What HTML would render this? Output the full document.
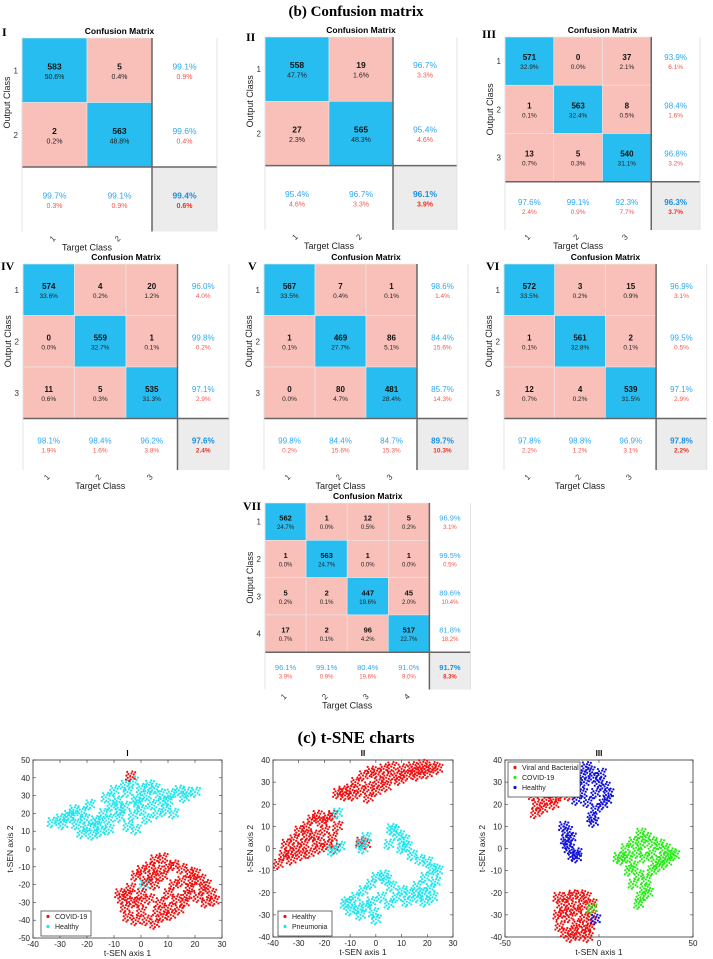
<!DOCTYPE html>
<html><head><meta charset="utf-8"><style>
html,body{margin:0;padding:0;background:#fff}
svg{display:block}
text{font-family:"Liberation Sans",sans-serif}
.serif{font-family:"Liberation Serif",serif;font-weight:bold}
</style></head><body>
<svg id="fig" width="713" height="959" viewBox="0 0 713 959" xmlns="http://www.w3.org/2000/svg">
<text class="serif" x="356" y="16" font-size="15" text-anchor="middle">(b)  Confusion matrix</text>
<text class="serif" x="356" y="743" font-size="17" text-anchor="middle">(c)  t-SNE charts</text>
</svg>
<script>
const NS='http://www.w3.org/2000/svg';
const fig=document.getElementById('fig');
function mk(tag,attrs,parent,txt){const e=document.createElementNS(NS,tag);for(const k in attrs)e.setAttribute(k,attrs[k]);if(txt!==undefined)e.textContent=txt;(parent||fig).appendChild(e);return e;}

// ---- Confusion matrix data ----
const cmICounts=[[583,5],[2,563]];
const cmIPcts=[["50.6%","0.4%"],["0.2%","48.8%"]];
const cmIRow=[["99.1%","0.9%"],["99.6%","0.4%"]];
const cmICol=[["99.7%","0.3%"],["99.1%","0.9%"]];
const cmITotal=["99.4%","0.6%"];

const cmIICounts=[[558,19],[27,565]];
const cmIIPcts=[["47.7%","1.6%"],["2.3%","48.3%"]];
const cmIIRow=[["96.7%","3.3%"],["95.4%","4.6%"]];
const cmIICol=[["95.4%","4.6%"],["96.7%","3.3%"]];
const cmIITotal=["96.1%","3.9%"];

const cmIIICounts=[[571,0,37],[1,563,8],[13,5,540]];
const cmIIIPcts=[["32.9%","0.0%","2.1%"],["0.1%","32.4%","0.5%"],["0.7%","0.3%","31.1%"]];
const cmIIIRow=[["93.9%","6.1%"],["98.4%","1.6%"],["96.8%","3.2%"]];
const cmIIICol=[["97.6%","2.4%"],["99.1%","0.9%"],["92.3%","7.7%"]];
const cmIIITotal=["96.3%","3.7%"];

const cmIVCounts=[[574,4,20],[0,559,1],[11,5,535]];
const cmIVPcts=[["33.6%","0.2%","1.2%"],["0.0%","32.7%","0.1%"],["0.6%","0.3%","31.3%"]];
const cmIVRow=[["96.0%","4.0%"],["99.8%","0.2%"],["97.1%","2.9%"]];
const cmIVCol=[["98.1%","1.9%"],["98.4%","1.6%"],["96.2%","3.8%"]];
const cmIVTotal=["97.6%","2.4%"];

const cmVCounts=[[567,7,1],[1,469,86],[0,80,481]];
const cmVPcts=[["33.5%","0.4%","0.1%"],["0.1%","27.7%","5.1%"],["0.0%","4.7%","28.4%"]];
const cmVRow=[["98.6%","1.4%"],["84.4%","15.6%"],["85.7%","14.3%"]];
const cmVCol=[["99.8%","0.2%"],["84.4%","15.6%"],["84.7%","15.3%"]];
const cmVTotal=["89.7%","10.3%"];

const cmVICounts=[[572,3,15],[1,561,2],[12,4,539]];
const cmVIPcts=[["33.5%","0.2%","0.9%"],["0.1%","32.8%","0.1%"],["0.7%","0.2%","31.5%"]];
const cmVIRow=[["96.9%","3.1%"],["99.5%","0.5%"],["97.1%","2.9%"]];
const cmVICol=[["97.8%","2.2%"],["98.8%","1.2%"],["96.9%","3.1%"]];
const cmVITotal=["97.8%","2.2%"];

const cmVIICounts=[[562,1,12,5],[1,563,1,1],[5,2,447,45],[17,2,96,517]];
const cmVIIPcts=[["24.7%","0.0%","0.5%","0.2%"],["0.0%","24.7%","0.0%","0.0%"],["0.2%","0.1%","19.6%","2.0%"],["0.7%","0.1%","4.2%","22.7%"]];
const cmVIIRow=[["96.9%","3.1%"],["99.5%","0.5%"],["89.6%","10.4%"],["81.8%","18.2%"]];
const cmVIICol=[["96.1%","3.9%"],["99.1%","0.9%"],["80.4%","19.6%"],["91.0%","9.0%"]];
const cmVIITotal=["91.7%","8.3%"];

const BLUE='#27bdf0',PINK='#f9c0ba',GREY='#ececec',TBLUE='#2fa8ee',TRED='#f2564c';

function drawCM(id,label,x0,y0,cw,ch,counts,pcts,rowP,colP,tot,lx,ly,fs){
  const n=counts.length;
  const g=mk('g',{});
  
  
  const W=cw*(n+1),H=ch*(n+1);
  const lab=mk('text',{x:lx,y:ly,'font-size':12,class:'serif'},g,label);
  
  
  const t=mk('text',{x:x0+W/2,y:y0-4,'font-size':8.5,'font-weight':'bold','text-anchor':'middle'},g,'Confusion Matrix');
  
  
  for(let r=0;r<n;r++)for(let c=0;c<n;c++){
    const rc=mk('rect',{x:x0+c*cw,y:y0+r*ch,width:cw,height:ch,fill:r===c?BLUE:PINK,stroke:'#e8e8e8','stroke-width':0.6},g);
    
    
    const cx=x0+c*cw+cw/2,cy=y0+r*ch+ch/2;
    mk('text',{x:cx,y:cy-1,'font-size':fs,'font-weight':'bold','text-anchor':'middle',fill:'#111'},g,String(counts[r][c]));
    mk('text',{x:cx,y:cy+fs,'font-size':fs-1.5,'text-anchor':'middle',fill:'#222'},g,pcts[r][c]);
  }
  for(let r=0;r<n;r++){
    const cx=x0+n*cw+cw/2,cy=y0+r*ch+ch/2;
    mk('text',{x:cx,y:cy-1,'font-size':fs,'text-anchor':'middle',fill:TBLUE},g,rowP[r][0]);
    mk('text',{x:cx,y:cy+fs,'font-size':fs-1.5,'text-anchor':'middle',fill:TRED},g,rowP[r][1]);
  }
  for(let c=0;c<n;c++){
    const cx=x0+c*cw+cw/2,cy=y0+n*ch+ch/2;
    mk('text',{x:cx,y:cy-1,'font-size':fs,'text-anchor':'middle',fill:TBLUE},g,colP[c][0]);
    mk('text',{x:cx,y:cy+fs,'font-size':fs-1.5,'text-anchor':'middle',fill:TRED},g,colP[c][1]);
  }
  mk('rect',{x:x0+n*cw,y:y0+n*ch,width:cw,height:ch,fill:GREY},g);
  const cx=x0+n*cw+cw/2,cy=y0+n*ch+ch/2;
  mk('text',{x:cx,y:cy-1,'font-size':fs,'font-weight':'bold','text-anchor':'middle',fill:'#1a8ee0'},g,tot[0]);
  mk('text',{x:cx,y:cy+fs,'font-size':fs-1.5,'font-weight':'bold','text-anchor':'middle',fill:'#f03020'},g,tot[1]);
  mk('line',{x1:x0,y1:y0+n*ch,x2:x0+W,y2:y0+n*ch,stroke:'#666','stroke-width':1.5},g);
  mk('line',{x1:x0+n*cw,y1:y0,x2:x0+n*cw,y2:y0+H,stroke:'#666','stroke-width':1.5},g);
  mk('line',{x1:x0,y1:y0,x2:x0,y2:y0+H,stroke:'#ddd','stroke-width':0.8},g);
  mk('line',{x1:x0+W,y1:y0,x2:x0+W,y2:y0+H,stroke:'#ddd','stroke-width':0.8},g);
  for(let i=0;i<n;i++){
    mk('text',{x:x0-4,y:y0+i*ch+ch/2+3,'font-size':8,'text-anchor':'end',fill:'#333'},g,String(i+1));
    const tx=x0+i*cw+cw/2,ty=y0+H+9;
    mk('text',{x:tx,y:ty,'font-size':8,'text-anchor':'middle',fill:'#333',transform:'rotate(-45 '+tx+' '+ty+')'},g,String(i+1));
  }
  const ox=x0-12,oy=y0+n*ch/2;
  const ol=mk('text',{x:ox,y:oy,'font-size':9,'text-anchor':'middle',fill:'#222',transform:'rotate(-90 '+ox+' '+oy+')'},g,'Output Class');
  
  
  const tl=mk('text',{x:x0+n*cw/2,y:y0+H+19,'font-size':9,'text-anchor':'middle',fill:'#222'},g,'Target Class');
  
  
}
drawCM('i','I',22,38,65,64.5,cmICounts,cmIPcts,cmIRow,cmICol,cmITotal,2,36,8.5);
drawCM('ii','II',265,37,64,64.3,cmIICounts,cmIIPcts,cmIIRow,cmIICol,cmIITotal,246,41,8.5);
drawCM('iii','III',505,37,48.75,48.25,cmIIICounts,cmIIIPcts,cmIIIRow,cmIIICol,cmIIITotal,482,38,8);
drawCM('iv','IV',23,264,51.5,51.5,cmIVCounts,cmIVPcts,cmIVRow,cmIVCol,cmIVTotal,1,270,8);
drawCM('v','V',264,264,51,51.5,cmVCounts,cmVPcts,cmVRow,cmVCol,cmVTotal,248,270,8);
drawCM('vi','VI',504,264,50.7,51.5,cmVICounts,cmVIPcts,cmVIRow,cmVICol,cmVITotal,486,270,8);
drawCM('vii','VII',265,503,41.1,37.3,cmVIICounts,cmVIIPcts,cmVIIRow,cmVIICol,cmVIITotal,243,510,7.5);

// ---- t-SNE data ----
const tsneIHealthy=[[-33,15],[-30,17],[-27,19],[-25,22],[-22,21],[-24,14],[-20,12],[-22,9],[-18,8],[-15,10],[-12,11],[-17,16],[-14,20],[-11,24],[-9,27],[-6,24],[-8,18],[-5,13],[-2,11],[-3,19],[0,22],[-2,28],[-5,32],[-6,36],[-3,38],[0,34],[2,30],[4,25],[6,20],[9,22],[12,20],[8,27],[11,31],[14,33],[17,32],[20,32],[16,29],[5,34],[-10,33],[-13,29],[-19,25],[-26,18],[-29,14],[-16,14],[-8,22],[2,17],[10,27],[-1,26],[-21,17],[-12,17],[3,36],[7,31],[1,-20]];
const tsneICovid=[[-7,-28],[-6,-33],[-5,-38],[-8,-25],[-4,-22],[-3,-30],[0,-35],[2,-40],[5,-42],[8,-38],[3,-28],[0,-25],[-2,-15],[0,-12],[3,-10],[5,-6],[6,-12],[8,-15],[10,-10],[12,-9],[15,-11],[18,-13],[20,-14],[22,-17],[24,-20],[26,-25],[27,-29],[24,-30],[21,-27],[18,-22],[15,-18],[12,-20],[10,-25],[13,-28],[16,-30],[10,-33],[7,-30],[5,-20],[2,-18],[-5,-26],[-2,-40],[11,-37],[14,-34],[6,-35],[19,-18],[4,-15],[8,-5],[-1,-30],[17,-26],[23,-23],[-4,41]];
const tsneIIHealthy=[[-15,25],[-12,24],[-10,27],[-8,30],[-5,33],[-2,35],[0,34],[3,36],[6,37],[10,36],[14,37],[18,38],[22,37],[24,36],[20,34],[16,33],[12,33],[8,33],[4,32],[1,30],[-3,28],[-6,26],[-9,24],[-3,23],[0,26],[4,28],[9,31],[15,35],[-13,26],[19,36],[-38,-7],[-36,-3],[-35,2],[-33,-5],[-32,4],[-30,8],[-28,2],[-27,10],[-25,13],[-23,15],[-21,12],[-19,14],[-17,15],[-15,10],[-17,5],[-19,2],[-22,0],[-24,6],[-26,-2],[-29,-3],[-31,0],[-34,-2],[-20,8],[-23,3],[-27,6],[-16,0],[-6,3],[-4,2]];
const tsneIIPneumonia=[[-6,2],[-4,5],[-5,0],[5,2],[7,8],[9,6],[11,4],[12,1],[10,0],[6,9],[14,-3],[17,-5],[20,-6],[22,-9],[24,-10],[23,-15],[21,-18],[22,-22],[19,-24],[16,-22],[13,-20],[10,-19],[8,-22],[6,-17],[4,-14],[3,-12],[0,-13],[-2,-16],[-5,-19],[-8,-22],[-11,-24],[-10,-28],[-7,-27],[-4,-26],[-1,-29],[0,-32],[-2,-24],[2,-22],[5,-25],[12,-24],[16,-17],[19,-13],[-12,-25],[-6,-30],[18,-20],[-14,1],[-17,-1],[-15,16]];
const tsneIIIViral=[[-38,33],[-36,28],[-35,24],[-33,20],[-34,16],[-31,30],[-29,27],[-28,22],[-30,18],[-26,25],[-25,30],[-22,28],[-20,25],[-18,27],[-16,24],[-24,20],[-27,33],[-32,34],[-23,23],[-22,-22],[-20,-25],[-22,-30],[-21,-35],[-18,-38],[-15,-40],[-10,-39],[-6,-40],[-5,-35],[-4,-30],[-4,-25],[-7,-22],[-10,-21],[-14,-21],[-17,-22],[-15,-26],[-12,-28],[-9,-26],[-16,-31],[-12,-34],[-8,-31],[-19,-29],[-13,-37],[-7,-36]];
const tsneIIIHealthy=[[-14,30],[-12,28],[-10,33],[-7,37],[-5,35],[-3,32],[0,30],[3,28],[5,25],[4,22],[2,20],[-2,18],[-4,14],[-6,21],[-9,25],[-12,22],[-8,30],[-2,25],[1,34],[-15,27],[-3,12],[-19,10],[-17,8],[-18,4],[-16,0],[-14,-3],[-12,-2],[-15,5],[-12,-4],[-17,2],[-2,-32]];
const tsneIIICovid=[[22,7],[25,5],[28,3],[32,2],[35,0],[38,-2],[40,-3],[36,-6],[32,-8],[28,-10],[25,-14],[24,-18],[22,-22],[21,-25],[18,-16],[16,-10],[12,-5],[10,-4],[14,0],[18,3],[20,-2],[24,-4],[28,-2],[30,-6],[34,-4],[18,-8],[21,-12],[26,-20],[15,-4],[22,2],[-4,-27]];
const tsneIXTicks=[-40,-30,-20,-10,0,10,20,30];
const tsneIYTicks=[-50,-40,-30,-20,-10,0,10,20,30,40,50];
const tsneIIXTicks=[-40,-30,-20,-10,0,10,20,30];
const tsneIIYTicks=[-40,-30,-20,-10,0,10,20,30,40];
const tsneIIIXTicks=[-50,0,50];
const tsneIIIYTicks=[-40,-30,-20,-10,0,10,20,30,40];

const DOTOFF=[[0,0],[2.6,1.2],[-2.4,1.8],[1.2,-2.6],[-1.8,-2],[3.6,-1.5],[-3.8,-0.4],[0.4,3.4],[-1,5],[4.5,2.8],[-4.2,3.6],[2.2,-4.6],[-3,-4.2],[5,-3.8]];
function scatter(id,title,bx,by,bw,bh,xmin,xmax,ymin,ymax,xt,yt,series,legend){
  const g=mk('g',{});
  
  
  const sx=v=>bx+(v-xmin)/(xmax-xmin)*bw, sy=v=>by+bh-(v-ymin)/(ymax-ymin)*bh;
  mk('rect',{x:bx,y:by,width:bw,height:bh,fill:'#fff',stroke:'#333','stroke-width':0.8},g);
  const tt=mk('text',{x:bx+bw/2,y:by-4,'font-size':8,'font-weight':'bold','text-anchor':'middle'},g,title);
  
  
  xt.forEach(v=>{const x=sx(v);mk('line',{x1:x,y1:by+bh,x2:x,y2:by+bh-3,stroke:'#333','stroke-width':0.6},g);mk('line',{x1:x,y1:by,x2:x,y2:by+3,stroke:'#333','stroke-width':0.6},g);mk('text',{x:x,y:by+bh+9,'font-size':8,'text-anchor':'middle',fill:'#222'},g,String(v));});
  yt.forEach(v=>{const y=sy(v);mk('line',{x1:bx,y1:y,x2:bx+3,y2:y,stroke:'#333','stroke-width':0.6},g);mk('line',{x1:bx+bw,y1:y,x2:bx+bw-3,y2:y,stroke:'#333','stroke-width':0.6},g);mk('text',{x:bx-3,y:y+3,'font-size':8,'text-anchor':'end',fill:'#222'},g,String(v));});
  const xl=mk('text',{x:bx+bw/2,y:by+bh+18,'font-size':8.5,'text-anchor':'middle',fill:'#222'},g,'t-SEN axis 1');
  
  
  const yx=bx-20,yy=by+bh/2;
  const yl=mk('text',{x:yx,y:yy,'font-size':8.5,'text-anchor':'middle',fill:'#222',transform:'rotate(-90 '+yx+' '+yy+')'},g,'t-SEN axis 2');
  
  
  series.forEach(s=>{
    s.pts.forEach(p=>{
      const cx=sx(p[0]),cy=sy(p[1]);
      DOTOFF.forEach(o=>{
        const c=mk('circle',{cx:cx+o[0],cy:cy+o[1],r:1.1,fill:s.color},g);
        
        
      });
    });
  });
  const L=legend;
  const lb=mk('rect',{x:L.x,y:L.y,width:L.w,height:legend.items.length*10+5,fill:'#fff',stroke:'#333','stroke-width':0.7},g);
  
  
  L.items.forEach((it,i)=>{
    const yy2=L.y+8+i*10;
    mk('circle',{cx:L.x+7,cy:yy2-2.5,r:1.6,fill:it[1]},g);
    const lt=mk('text',{x:L.x+14,y:yy2,'font-size':7,fill:'#222'},g,it[0]);
    
    
  });
}
const RED='#f01010',CYAN='#1ee6ee',GREEN='#22ee11',DBLUE='#1111dd';
scatter('i','I',33,760,189,178,-40,30,-50,50,tsneIXTicks,tsneIYTicks,
  [{pts:tsneIHealthy,color:CYAN},{pts:tsneICovid,color:RED}],
  {x:41,y:911,w:50,items:[['COVID-19',RED],['Healthy',CYAN]]});
scatter('ii','II',273,760,180,177,-40,30,-40,40,tsneIIXTicks,tsneIIYTicks,
  [{pts:tsneIIHealthy,color:RED},{pts:tsneIIPneumonia,color:CYAN}],
  {x:278,y:911,w:54,items:[['Healthy',RED],['Pneumonia',CYAN]]});
scatter('iii','III',505,760,188,177,-50,50,-40,40,tsneIIIXTicks,tsneIIIYTicks,
  [{pts:tsneIIIViral,color:RED},{pts:tsneIIIHealthy,color:DBLUE},{pts:tsneIIICovid,color:GREEN}],
  {x:508,y:762,w:72,items:[['Viral and Bacterial',RED],['COVID-19',GREEN],['Healthy',DBLUE]]});
</script>
</body></html>
